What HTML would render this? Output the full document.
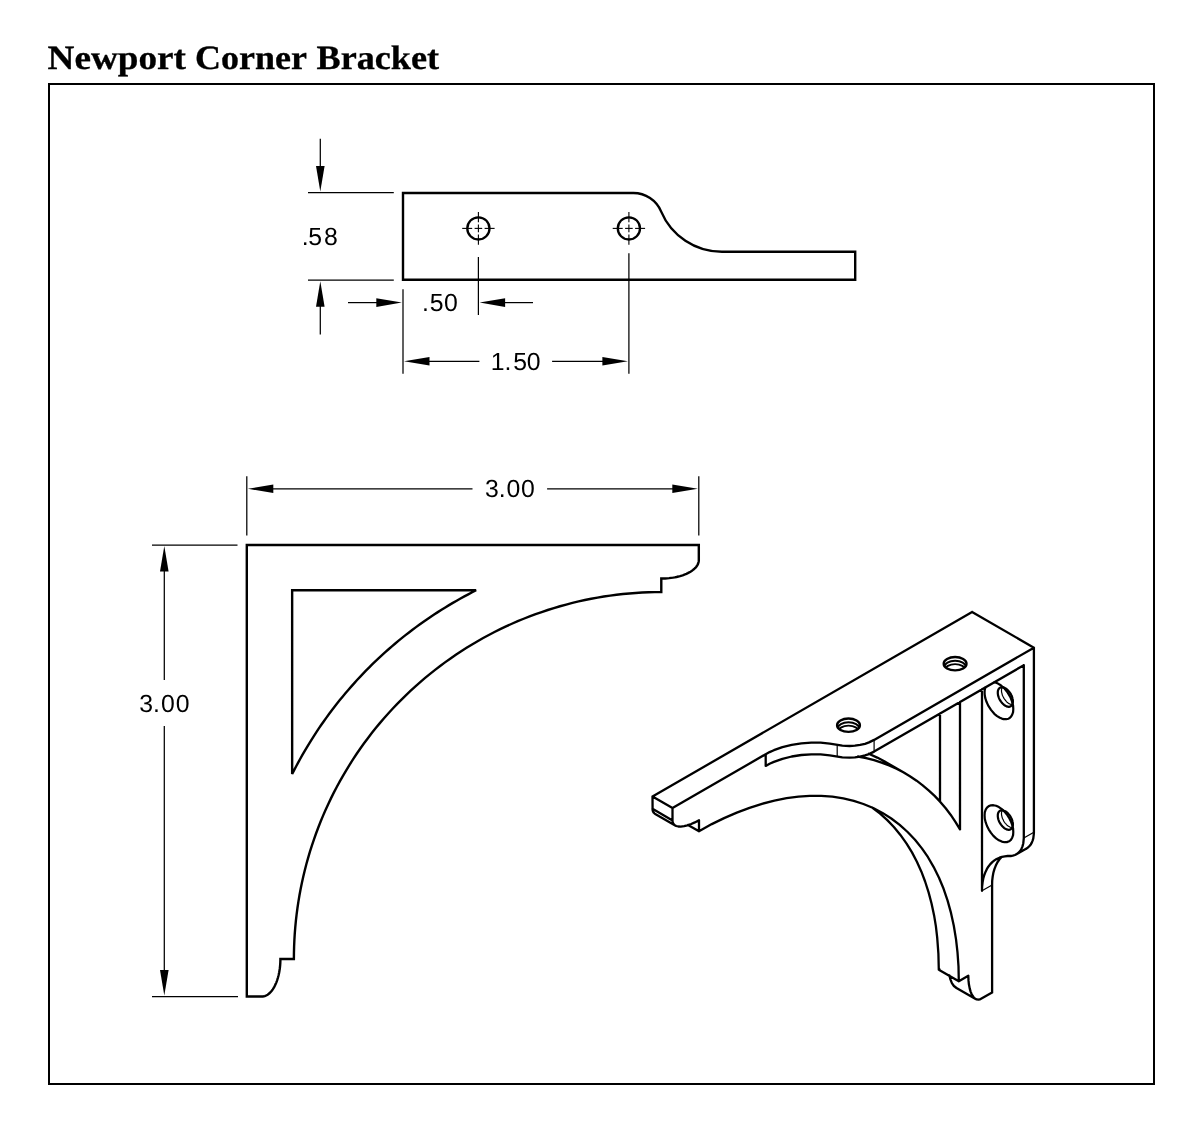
<!DOCTYPE html>
<html><head><meta charset="utf-8"><title>Newport Corner Bracket</title>
<style>html,body{margin:0;padding:0;background:#fff}svg{display:block;will-change:transform}text{text-rendering:geometricPrecision}</style></head><body>
<svg width="1200" height="1126" viewBox="0 0 1200 1126">
<rect x="0" y="0" width="1200" height="1126" fill="#fff"/>
<text transform="translate(47.6 68.8) scale(1.0937 1)" font-family="'Liberation Serif', serif" font-weight="bold" font-size="34" fill="#000" stroke="#000" stroke-width="0.3">Newport</text>
<text transform="translate(195.04 68.8) scale(1.0577 1)" font-family="'Liberation Serif', serif" font-weight="bold" font-size="34" fill="#000" stroke="#000" stroke-width="0.3">Corner</text>
<text transform="translate(316.5 68.8) scale(1.064 1)" font-family="'Liberation Serif', serif" font-weight="bold" font-size="34" fill="#000" stroke="#000" stroke-width="0.3">Bracket</text>
<rect x="49" y="84" width="1105" height="1000" fill="none" stroke="#000" stroke-width="2"/>
<path d="M403 193 H633.4 A30 30 0 0 1 661.06 211.38 A66 66 0 0 0 721.9 251.8 H855.2 V279.7 H403 Z" fill="none" stroke="#000" stroke-width="2.4" stroke-linejoin="miter" />
<circle cx="478.4" cy="228.4" r="11.1" fill="none" stroke="#000" stroke-width="2.3"/>
<line x1="474.6" y1="228.4" x2="482.2" y2="228.4" stroke="#000" stroke-width="1.1" />
<line x1="478.4" y1="224.6" x2="478.4" y2="232.2" stroke="#000" stroke-width="1.1" />
<line x1="462.2" y1="228.4" x2="472.2" y2="228.4" stroke="#000" stroke-width="1.1" />
<line x1="484.6" y1="228.4" x2="494.6" y2="228.4" stroke="#000" stroke-width="1.1" />
<line x1="478.4" y1="212" x2="478.4" y2="222.2" stroke="#000" stroke-width="1.1" />
<line x1="478.4" y1="234.6" x2="478.4" y2="244.8" stroke="#000" stroke-width="1.1" />
<circle cx="628.9" cy="228.4" r="11.1" fill="none" stroke="#000" stroke-width="2.3"/>
<line x1="625.1" y1="228.4" x2="632.7" y2="228.4" stroke="#000" stroke-width="1.1" />
<line x1="628.9" y1="224.6" x2="628.9" y2="232.2" stroke="#000" stroke-width="1.1" />
<line x1="612.7" y1="228.4" x2="622.7" y2="228.4" stroke="#000" stroke-width="1.1" />
<line x1="635.1" y1="228.4" x2="645.1" y2="228.4" stroke="#000" stroke-width="1.1" />
<line x1="628.9" y1="212" x2="628.9" y2="222.2" stroke="#000" stroke-width="1.1" />
<line x1="628.9" y1="234.6" x2="628.9" y2="244.8" stroke="#000" stroke-width="1.1" />
<line x1="308" y1="192.5" x2="393.8" y2="192.5" stroke="#000" stroke-width="1.25" />
<line x1="308" y1="280" x2="393.8" y2="280" stroke="#000" stroke-width="1.25" />
<line x1="320.3" y1="138.8" x2="320.3" y2="170" stroke="#000" stroke-width="1.25" />
<polygon points="320.3,191.6 316,166.1 324.6,166.1" fill="#000"/>
<line x1="320.3" y1="304" x2="320.3" y2="334.5" stroke="#000" stroke-width="1.25" />
<polygon points="320.3,281.2 324.6,306.7 316,306.7" fill="#000"/>
<text x="301.74 308.26 323.92" y="245.3" font-family="'Liberation Sans', sans-serif" font-size="24.8" fill="#000">.58</text>
<line x1="403" y1="289.3" x2="403" y2="373.8" stroke="#000" stroke-width="1.25" />
<line x1="478.4" y1="257" x2="478.4" y2="315" stroke="#000" stroke-width="1.25" />
<line x1="348" y1="302.6" x2="380" y2="302.6" stroke="#000" stroke-width="1.25" />
<polygon points="401.8,302.6 376.3,306.9 376.3,298.3" fill="#000"/>
<line x1="503" y1="302.6" x2="533" y2="302.6" stroke="#000" stroke-width="1.25" />
<polygon points="479.6,302.6 505.1,298.3 505.1,306.9" fill="#000"/>
<text x="422.04 429.76 444.03" y="311.2" font-family="'Liberation Sans', sans-serif" font-size="24.8" fill="#000">.50</text>
<line x1="628.9" y1="253.2" x2="628.9" y2="373.8" stroke="#000" stroke-width="1.25" />
<line x1="428" y1="361.3" x2="479.4" y2="361.3" stroke="#000" stroke-width="1.25" />
<polygon points="404,361.3 429.5,357 429.5,365.6" fill="#000"/>
<line x1="552.1" y1="361.3" x2="605" y2="361.3" stroke="#000" stroke-width="1.25" />
<polygon points="627.9,361.3 602.4,365.6 602.4,357" fill="#000"/>
<text x="490.71 504.49 513.26 526.78" y="369.8" font-family="'Liberation Sans', sans-serif" font-size="24.8" fill="#000">1.50</text>
<path d="M246.8 545 L698.81 545 L698.81 560.05 L698.81 560.05 L698.76 561.02 L698.6 561.98 L698.35 562.95 L697.99 563.9 L697.53 564.84 L696.97 565.77 L696.32 566.68 L695.57 567.58 L694.72 568.45 L693.78 569.31 L692.76 570.13 L691.64 570.93 L690.45 571.7 L689.17 572.44 L687.82 573.14 L686.4 573.81 L684.9 574.44 L683.35 575.03 L681.73 575.58 L680.05 576.08 L678.33 576.54 L676.55 576.96 L674.74 577.33 L672.89 577.66 L671 577.93 L669.09 578.16 L667.16 578.33 L665.21 578.46 L663.26 578.54 L661.29 578.56 L661.29 592.03 L661.29 592.03 L654.88 592.09 L648.47 592.25 L642.06 592.53 L635.66 592.93 L629.27 593.43 L622.89 594.04 L616.52 594.77 L610.16 595.6 L603.82 596.55 L597.49 597.61 L591.19 598.77 L584.9 600.05 L578.64 601.44 L572.41 602.93 L566.2 604.54 L560.02 606.25 L553.87 608.07 L547.76 609.99 L541.68 612.03 L535.63 614.16 L529.63 616.41 L523.66 618.75 L517.74 621.21 L511.85 623.76 L506.02 626.42 L500.23 629.17 L494.49 632.03 L488.81 634.99 L483.17 638.05 L477.59 641.2 L472.06 644.45 L466.6 647.8 L461.19 651.24 L455.84 654.77 L450.56 658.4 L445.34 662.12 L440.18 665.93 L435.09 669.83 L430.08 673.82 L425.13 677.89 L420.25 682.05 L415.45 686.3 L410.72 690.62 L406.07 695.03 L401.5 699.52 L397 704.09 L392.59 708.74 L388.26 713.46 L384.01 718.26 L379.84 723.13 L375.76 728.07 L371.77 733.08 L367.87 738.16 L364.05 743.31 L360.33 748.53 L356.7 753.8 L353.16 759.15 L349.71 764.55 L346.36 770.01 L343.11 775.53 L339.95 781.1 L336.89 786.73 L333.93 792.41 L331.07 798.15 L328.31 803.93 L325.65 809.76 L323.09 815.63 L320.64 821.55 L318.29 827.51 L316.04 833.51 L313.9 839.54 L311.87 845.62 L309.94 851.73 L308.12 857.87 L306.4 864.04 L304.8 870.24 L303.3 876.47 L301.91 882.72 L300.63 889 L299.47 895.3 L298.41 901.61 L297.46 907.95 L296.62 914.3 L295.9 920.66 L295.28 927.04 L294.78 933.43 L294.39 939.82 L294.11 946.22 L293.94 952.62 L293.88 959.03 L280.4 959.03 L280.37 960.99 L280.3 962.94 L280.17 964.89 L279.99 966.82 L279.77 968.72 L279.49 970.61 L279.17 972.46 L278.8 974.27 L278.38 976.04 L277.92 977.76 L277.41 979.44 L276.86 981.05 L276.27 982.61 L275.64 984.1 L274.97 985.52 L274.27 986.87 L273.53 988.15 L272.76 989.34 L271.96 990.45 L271.13 991.48 L270.28 992.42 L269.4 993.26 L268.51 994.01 L267.59 994.67 L266.66 995.22 L265.72 995.68 L264.77 996.04 L263.8 996.29 L262.84 996.45 L261.87 996.5 L246.8 996.5 Z" fill="none" stroke="#000" stroke-width="2.4" stroke-linejoin="miter" />
<path d="M292.15 590.3 L476.11 590.3 L476.11 590.3 L472.18 592.3 L468.27 594.34 L464.38 596.42 L460.51 598.54 L456.67 600.7 L452.85 602.9 L449.05 605.15 L445.28 607.43 L441.54 609.76 L437.81 612.12 L434.12 614.52 L430.45 616.97 L426.8 619.45 L423.18 621.97 L419.59 624.53 L416.03 627.13 L412.5 629.76 L408.99 632.44 L405.51 635.15 L402.06 637.9 L398.64 640.68 L395.26 643.5 L391.9 646.36 L388.57 649.25 L385.27 652.17 L382.01 655.14 L378.77 658.13 L375.57 661.17 L372.4 664.23 L369.27 667.33 L366.17 670.46 L363.1 673.63 L360.06 676.82 L357.06 680.05 L354.1 683.32 L351.17 686.61 L348.27 689.93 L345.41 693.29 L342.59 696.67 L339.8 700.09 L337.05 703.53 L334.34 707.01 L331.66 710.51 L329.02 714.04 L326.42 717.6 L323.86 721.19 L321.33 724.8 L318.85 728.44 L316.4 732.11 L314 735.8 L311.63 739.52 L309.3 743.26 L307.02 747.03 L304.77 750.82 L302.56 754.63 L300.4 758.47 L298.27 762.33 L296.19 766.22 L294.15 770.12 L292.15 774.05 Z" fill="none" stroke="#000" stroke-width="2.4" stroke-linejoin="miter" />
<line x1="246.8" y1="476.3" x2="246.8" y2="535.5" stroke="#000" stroke-width="1.25" />
<line x1="698.8" y1="476.3" x2="698.8" y2="535.5" stroke="#000" stroke-width="1.25" />
<line x1="272" y1="488.8" x2="472.5" y2="488.8" stroke="#000" stroke-width="1.25" />
<polygon points="247.8,488.8 273.3,484.5 273.3,493.1" fill="#000"/>
<line x1="547.1" y1="488.8" x2="673" y2="488.8" stroke="#000" stroke-width="1.25" />
<polygon points="697.8,488.8 672.3,493.1 672.3,484.5" fill="#000"/>
<text x="485.06 498.74 506.43 521.03" y="497.2" font-family="'Liberation Sans', sans-serif" font-size="24.8" fill="#000">3.00</text>
<line x1="152" y1="545" x2="237.5" y2="545" stroke="#000" stroke-width="1.25" />
<line x1="152" y1="996.5" x2="238" y2="996.5" stroke="#000" stroke-width="1.25" />
<line x1="164.3" y1="570" x2="164.3" y2="680" stroke="#000" stroke-width="1.25" />
<polygon points="164.3,546 168.6,571.5 160,571.5" fill="#000"/>
<line x1="164.3" y1="726" x2="164.3" y2="972" stroke="#000" stroke-width="1.25" />
<polygon points="164.3,995.6 160,970.1 168.6,970.1" fill="#000"/>
<text x="139.31 152.99 161.03 175.63" y="711.9" font-family="'Liberation Sans', sans-serif" font-size="24.8" fill="#000">3.00</text>
<g fill="none" stroke="#000" stroke-width="2.3" stroke-linecap="round" stroke-linejoin="round">
<path d="M1033.9 647.7 L874.1 739.9 L869.0 742.4 L865.0 743.8 L860.1 744.9 L854.9 745.7 L849.6 746.0 L842.3 745.6 L829.8 743.6 L820.6 742.7 L811.3 742.6 L801.4 743.3 L791.7 744.8 L782.4 747.1 L773.9 750.2 L769.6 752.1 L765.7 754.2 M1023.8 665.2 L874.1 751.6 L869.0 754.1 L865.0 755.4 L860.1 756.6 L854.9 757.4 L849.6 757.6 L842.3 757.3 L829.8 755.3 L820.6 754.4 L811.3 754.3 L801.4 755.0 L791.7 756.5 L782.4 758.8 L773.9 761.9 L769.6 763.8 L765.7 765.9 M765.7 754.2 L672.5 808.1 M972.1 612.0 L652.5 796.5 M652.5 796.5 L672.5 808.1 M972.1 612.0 L1033.9 647.7 M765.7 754.2 L765.7 765.9 M1033.9 647.7 L1033.9 833.3 L1033.3 838.3 L1032.6 840.6 L1031.8 842.6 L1030.8 844.4 L1029.5 846.0 L1027.8 847.6 L1026.2 848.7 M1001.7 856.9 L999.5 859.3 L997.6 862.0 L995.8 865.6 L994.5 868.9 L993.4 872.6 L992.7 876.5 L992.2 880.6 L992.1 885.0 M1023.8 665.2 L1023.8 838.1 L1023.3 843.2 L1022.5 846.4 L1021.1 849.6 L1019.1 852.2 L1016.7 854.1 L1015.0 855.0 L1012.8 855.7 L1010.8 856.0 L1007.6 856.0 L1004.8 856.3 L1002.0 856.8 L999.5 857.7 L996.6 859.0 L994.4 860.4 L992.3 862.1 L990.3 864.1 L988.3 866.7 L986.8 869.2 L985.5 871.9 L984.2 875.3 L983.3 878.4 L982.6 882.3 L982.1 886.5 L982.0 890.8 M992.1 885.0 L992.1 992.6 M1026.5 848.5 L1016.4 854.3 M982.0 689.1 L982.0 890.8 M652.5 796.5 L652.6 810.0 L652.9 811.3 L653.5 812.4 L654.4 813.3 L655.4 814.1 M872.5 807.8 L880.1 813.6 L887.3 820.1 L894.1 827.2 L900.4 834.9 L906.6 843.6 L912.0 852.4 L916.9 861.8 L921.4 871.7 L925.1 881.5 L928.6 892.4 L931.6 903.7 L934.1 915.4 L935.9 926.4 L937.2 937.6 L938.4 953.7 L938.8 969.7 L939.5 969.3 M949.4 975.4 L950.5 979.6 L951.9 983.1 L953.9 986.0 L955.9 987.5 M672.5 808.1 L672.5 821.2 L673.1 823.3 L674.3 824.9 L676.2 826.0 L678.3 826.5 L680.8 826.6 L684.1 826.2 L687.3 825.4 L691.2 824.0 L694.8 822.4 L699.0 820.2 L699.0 831.2 L711.8 824.1 L724.1 818.1 L736.8 812.6 L749.5 807.8 L762.0 803.8 L774.4 800.6 L786.6 798.2 L798.5 796.6 L809.7 795.9 L821.2 795.9 L832.4 796.7 L843.3 798.4 L853.8 800.9 L863.4 804.0 L873.2 808.0 L882.5 812.9 L891.3 818.5 L899.7 824.9 L907.6 832.0 L915.0 839.8 L921.9 848.4 L928.0 857.2 L933.7 867.1 L939.0 877.7 L943.6 888.8 L947.6 900.6 L951.0 912.9 L953.8 925.8 L956.0 939.1 L957.5 952.3 L958.5 966.5 L958.8 981.2 L968.3 975.7 L968.5 980.4 L968.9 984.3 L969.7 988.4 L970.6 991.6 L971.7 994.3 L973.2 996.7 L974.9 998.5 L976.6 999.4 L978.6 999.7 L980.6 999.1 L992.1 992.6 M652.5 808.8 L672.5 820.4 M655.2 814.0 L675.2 825.5 M688.0 824.9 L699.0 831.2 M938.8 969.7 L958.8 981.2 M955.6 987.4 L975.6 998.9 M940.0 801.5 L940.0 713.4 M868.8 753.8 L877.2 757.6 L885.7 762.1 M960.0 829.3 L960.0 702.0 M858.0 756.5 L866.2 758.2 L874.1 760.2 L881.6 762.6 L889.1 765.5 L896.5 768.8 L903.3 772.3 L909.9 776.2 L916.6 780.7 L922.7 785.3 L928.9 790.6 L934.6 795.9 L940.3 801.9 L945.7 808.3 L950.6 814.7 L955.4 821.8 L960.0 829.3 M885.5 762.0 L905.5 773.5"/>
<path d="M874.1 739.9 L874.1 751.6 M837.2 744.8 L837.2 756.5 M1033.9 832.2 L1023.8 838.1 M992.1 885.0 L982.0 890.8" stroke-width="1.2"/>
</g>
<clipPath id="hc0"><ellipse cx="955.1" cy="663.7" rx="11.4" ry="6.7"/></clipPath>
<g clip-path="url(#hc0)" fill="none" stroke="#000">
<ellipse cx="955.1" cy="667.1" rx="10.8" ry="6.4" stroke-width="1.9"/>
<ellipse cx="955.1" cy="670.2" rx="10.2" ry="6.1" stroke-width="1.8"/>
</g>
<ellipse cx="955.1" cy="663.7" rx="11.4" ry="6.7" fill="none" stroke="#000" stroke-width="2.4"/>
<clipPath id="hc1"><ellipse cx="848.5" cy="725.2" rx="11.4" ry="6.7"/></clipPath>
<g clip-path="url(#hc1)" fill="none" stroke="#000">
<ellipse cx="848.5" cy="728.6" rx="10.8" ry="6.4" stroke-width="1.9"/>
<ellipse cx="848.5" cy="731.7" rx="10.2" ry="6.1" stroke-width="1.8"/>
</g>
<ellipse cx="848.5" cy="725.2" rx="11.4" ry="6.7" fill="none" stroke="#000" stroke-width="2.4"/>
<path d="M1013.3 709.0 L1013.1 712.1 L1012.2 714.7 L1010.9 716.8 L1009.8 717.9 L1008.4 718.7 L1006.1 719.2 L1003.6 719.1 L1001.8 718.6 L999.9 717.8 L997.1 716.1 L994.3 713.8 L991.0 709.9 L988.1 705.4 L986.5 701.8 L985.3 698.2 L984.7 694.6 L984.6 692.4 L984.7 690.3 L985.3 687.5 M994.3 682.3 L996.1 682.8 L998.0 683.6 L1000.8 685.3 L1004.5 688.5 L1007.7 692.6 L1010.4 697.2 L1011.8 700.8 L1013.1 705.6 L1013.3 709.0" fill="none" stroke="#000" stroke-width="2.2" stroke-linecap="round" stroke-linejoin="round"/>
<clipPath id="vc0"><path d="M1012.9 701.4 L1012.9 702.1 L1012.8 702.8 L1012.6 703.5 L1012.4 704.1 L1012.2 704.7 L1011.9 705.2 L1011.5 705.6 L1011.1 706.0 L1010.7 706.3 L1010.2 706.5 L1009.7 706.7 L1009.1 706.8 L1008.5 706.8 L1007.9 706.7 L1007.3 706.6 L1006.7 706.4 L1006.0 706.1 L1005.3 705.7 L1004.7 705.3 L1004.0 704.9 L1003.4 704.3 L1002.8 703.7 L1002.1 703.1 L1001.6 702.4 L1001.0 701.7 L1000.5 700.9 L1000.0 700.1 L999.5 699.3 L999.1 698.4 L998.8 697.6 L998.5 696.7 L998.2 695.9 L998.0 695.1 L997.9 694.2 L997.8 693.4 L997.8 692.6 L997.8 691.9 L997.9 691.2 L998.0 690.5 L998.2 689.9 L998.5 689.4 L998.8 688.9 L999.1 688.4 L999.5 688.0 L1000.0 687.7 L1000.5 687.5 L1001.0 687.3 L1001.6 687.3 L1002.1 687.2 L1002.8 687.3 L1003.4 687.4 L1004.0 687.6 L1004.7 687.9 L1005.3 688.3 L1006.0 688.7 L1006.7 689.2 L1007.3 689.7 L1007.9 690.3 L1008.5 690.9 L1009.1 691.6 L1009.7 692.4 L1010.2 693.1 L1010.7 693.9 L1011.1 694.7 L1011.5 695.6 L1011.9 696.4 L1012.2 697.3 L1012.4 698.1 L1012.6 699.0 L1012.8 699.8 L1012.9 700.6 L1012.9 701.4 Z"/></clipPath>
<path d="M1016.6 699.2 L1016.6 700.0 L1016.5 700.7 L1016.4 701.3 L1016.2 701.9 L1015.9 702.5 L1015.6 703.0 L1015.3 703.4 L1014.9 703.8 L1014.4 704.1 L1013.9 704.4 L1013.4 704.5 L1012.9 704.6 L1012.3 704.6 L1011.7 704.6 L1011.0 704.4 L1010.4 704.2 L1009.7 703.9 L1009.1 703.6 L1008.4 703.2 L1007.8 702.7 L1007.1 702.2 L1006.5 701.6 L1005.9 700.9 L1005.3 700.2 L1004.7 699.5 L1004.2 698.7 L1003.7 697.9 L1003.3 697.1 L1002.9 696.3 L1002.5 695.4 L1002.2 694.6 L1002.0 693.7 L1001.8 692.9 L1001.6 692.1 L1001.5 691.3 L1001.5 690.5 L1001.5 689.7 L1001.6 689.0 L1001.8 688.4 L1002.0 687.8 L1002.2 687.2 L1002.5 686.7 L1002.9 686.3 L1003.3 685.9 L1003.7 685.6 L1004.2 685.4 L1004.7 685.2 L1005.3 685.1 L1005.9 685.1 L1006.5 685.2 L1007.1 685.3 L1007.8 685.5 L1008.4 685.8 L1009.1 686.1 L1009.7 686.5 L1010.4 687.0 L1011.0 687.5 L1011.7 688.1 L1012.3 688.8 L1012.9 689.5 L1013.4 690.2 L1013.9 691.0 L1014.4 691.8 L1014.9 692.6 L1015.3 693.4 L1015.6 694.3 L1015.9 695.1 L1016.2 696.0 L1016.4 696.8 L1016.5 697.6 L1016.6 698.4 L1016.6 699.2 Z" fill="none" stroke="#000" stroke-width="1.2" clip-path="url(#vc0)"/>
<path d="M1012.9 701.4 L1012.9 702.1 L1012.8 702.8 L1012.6 703.5 L1012.4 704.1 L1012.2 704.7 L1011.9 705.2 L1011.5 705.6 L1011.1 706.0 L1010.7 706.3 L1010.2 706.5 L1009.7 706.7 L1009.1 706.8 L1008.5 706.8 L1007.9 706.7 L1007.3 706.6 L1006.7 706.4 L1006.0 706.1 L1005.3 705.7 L1004.7 705.3 L1004.0 704.9 L1003.4 704.3 L1002.8 703.7 L1002.1 703.1 L1001.6 702.4 L1001.0 701.7 L1000.5 700.9 L1000.0 700.1 L999.5 699.3 L999.1 698.4 L998.8 697.6 L998.5 696.7 L998.2 695.9 L998.0 695.1 L997.9 694.2 L997.8 693.4 L997.8 692.6 L997.8 691.9 L997.9 691.2 L998.0 690.5 L998.2 689.9 L998.5 689.4 L998.8 688.9 L999.1 688.4 L999.5 688.0 L1000.0 687.7 L1000.5 687.5 L1001.0 687.3 L1001.6 687.3 L1002.1 687.2 L1002.8 687.3 L1003.4 687.4 L1004.0 687.6 L1004.7 687.9 L1005.3 688.3 L1006.0 688.7 L1006.7 689.2 L1007.3 689.7 L1007.9 690.3 L1008.5 690.9 L1009.1 691.6 L1009.7 692.4 L1010.2 693.1 L1010.7 693.9 L1011.1 694.7 L1011.5 695.6 L1011.9 696.4 L1012.2 697.3 L1012.4 698.1 L1012.6 699.0 L1012.8 699.8 L1012.9 700.6 L1012.9 701.4 Z" fill="none" stroke="#000" stroke-width="2.2"/>
<path d="M1013.3 832.0 L1013.1 835.1 L1012.2 837.7 L1010.9 839.9 L1009.1 841.3 L1006.9 842.1 L1004.5 842.2 L1001.8 841.6 L998.9 840.3 L996.1 838.4 L993.4 835.9 L991.0 832.9 L988.8 829.6 L987.0 826.0 L985.7 822.4 L984.8 818.8 L984.6 815.4 L984.8 812.3 L985.7 809.7 L987.0 807.6 L988.8 806.1 L991.0 805.3 L993.4 805.2 L996.1 805.8 L998.9 807.1 L1001.8 809.1 L1004.5 811.6 L1006.9 814.5 L1009.1 817.8 L1010.9 821.4 L1012.2 825.0 L1013.1 828.6 L1013.3 832.0" fill="none" stroke="#000" stroke-width="2.2" stroke-linecap="round" stroke-linejoin="round"/>
<clipPath id="vc1"><path d="M1012.9 824.4 L1012.9 825.1 L1012.8 825.8 L1012.6 826.5 L1012.4 827.1 L1012.2 827.7 L1011.9 828.2 L1011.5 828.6 L1011.1 829.0 L1010.7 829.3 L1010.2 829.5 L1009.7 829.7 L1009.1 829.8 L1008.5 829.8 L1007.9 829.7 L1007.3 829.6 L1006.7 829.4 L1006.0 829.1 L1005.3 828.8 L1004.7 828.4 L1004.0 827.9 L1003.4 827.3 L1002.8 826.7 L1002.1 826.1 L1001.6 825.4 L1001.0 824.7 L1000.5 823.9 L1000.0 823.1 L999.5 822.3 L999.1 821.5 L998.8 820.6 L998.5 819.8 L998.2 818.9 L998.0 818.1 L997.9 817.2 L997.8 816.4 L997.8 815.7 L997.8 814.9 L997.9 814.2 L998.0 813.6 L998.2 812.9 L998.5 812.4 L998.8 811.9 L999.1 811.4 L999.5 811.1 L1000.0 810.8 L1000.5 810.5 L1001.0 810.4 L1001.6 810.3 L1002.1 810.3 L1002.8 810.3 L1003.4 810.5 L1004.0 810.7 L1004.7 810.9 L1005.3 811.3 L1006.0 811.7 L1006.7 812.2 L1007.3 812.7 L1007.9 813.3 L1008.5 814.0 L1009.1 814.6 L1009.7 815.4 L1010.2 816.1 L1010.7 816.9 L1011.1 817.8 L1011.5 818.6 L1011.9 819.4 L1012.2 820.3 L1012.4 821.1 L1012.6 822.0 L1012.8 822.8 L1012.9 823.6 L1012.9 824.4 Z"/></clipPath>
<path d="M1016.6 822.2 L1016.6 823.0 L1016.5 823.7 L1016.4 824.4 L1016.2 825.0 L1015.9 825.5 L1015.6 826.0 L1015.3 826.5 L1014.9 826.8 L1014.4 827.1 L1013.9 827.4 L1013.4 827.5 L1012.9 827.6 L1012.3 827.6 L1011.7 827.6 L1011.0 827.4 L1010.4 827.2 L1009.7 827.0 L1009.1 826.6 L1008.4 826.2 L1007.8 825.7 L1007.1 825.2 L1006.5 824.6 L1005.9 823.9 L1005.3 823.3 L1004.7 822.5 L1004.2 821.8 L1003.7 821.0 L1003.3 820.1 L1002.9 819.3 L1002.5 818.5 L1002.2 817.6 L1002.0 816.8 L1001.8 815.9 L1001.6 815.1 L1001.5 814.3 L1001.5 813.5 L1001.5 812.8 L1001.6 812.1 L1001.8 811.4 L1002.0 810.8 L1002.2 810.2 L1002.5 809.7 L1002.9 809.3 L1003.3 808.9 L1003.7 808.6 L1004.2 808.4 L1004.7 808.2 L1005.3 808.1 L1005.9 808.1 L1006.5 808.2 L1007.1 808.3 L1007.8 808.5 L1008.4 808.8 L1009.1 809.1 L1009.7 809.6 L1010.4 810.0 L1011.0 810.6 L1011.7 811.2 L1012.3 811.8 L1012.9 812.5 L1013.4 813.2 L1013.9 814.0 L1014.4 814.8 L1014.9 815.6 L1015.3 816.4 L1015.6 817.3 L1015.9 818.1 L1016.2 819.0 L1016.4 819.8 L1016.5 820.7 L1016.6 821.5 L1016.6 822.2 Z" fill="none" stroke="#000" stroke-width="1.2" clip-path="url(#vc1)"/>
<path d="M1012.9 824.4 L1012.9 825.1 L1012.8 825.8 L1012.6 826.5 L1012.4 827.1 L1012.2 827.7 L1011.9 828.2 L1011.5 828.6 L1011.1 829.0 L1010.7 829.3 L1010.2 829.5 L1009.7 829.7 L1009.1 829.8 L1008.5 829.8 L1007.9 829.7 L1007.3 829.6 L1006.7 829.4 L1006.0 829.1 L1005.3 828.8 L1004.7 828.4 L1004.0 827.9 L1003.4 827.3 L1002.8 826.7 L1002.1 826.1 L1001.6 825.4 L1001.0 824.7 L1000.5 823.9 L1000.0 823.1 L999.5 822.3 L999.1 821.5 L998.8 820.6 L998.5 819.8 L998.2 818.9 L998.0 818.1 L997.9 817.2 L997.8 816.4 L997.8 815.7 L997.8 814.9 L997.9 814.2 L998.0 813.6 L998.2 812.9 L998.5 812.4 L998.8 811.9 L999.1 811.4 L999.5 811.1 L1000.0 810.8 L1000.5 810.5 L1001.0 810.4 L1001.6 810.3 L1002.1 810.3 L1002.8 810.3 L1003.4 810.5 L1004.0 810.7 L1004.7 810.9 L1005.3 811.3 L1006.0 811.7 L1006.7 812.2 L1007.3 812.7 L1007.9 813.3 L1008.5 814.0 L1009.1 814.6 L1009.7 815.4 L1010.2 816.1 L1010.7 816.9 L1011.1 817.8 L1011.5 818.6 L1011.9 819.4 L1012.2 820.3 L1012.4 821.1 L1012.6 822.0 L1012.8 822.8 L1012.9 823.6 L1012.9 824.4 Z" fill="none" stroke="#000" stroke-width="2.2"/>
</svg></body></html>
